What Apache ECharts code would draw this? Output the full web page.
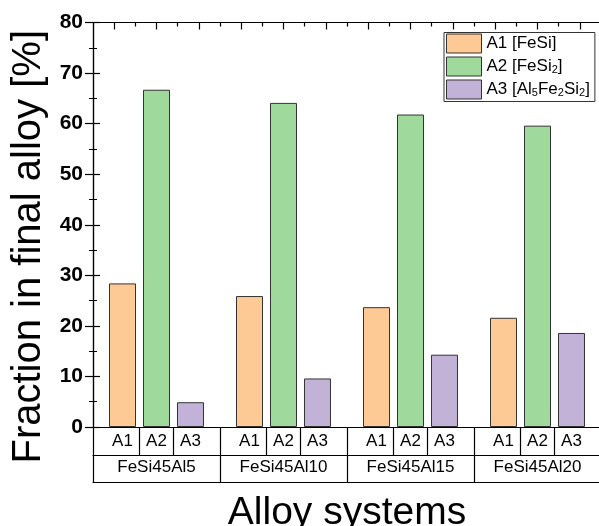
<!DOCTYPE html>
<html>
<head>
<meta charset="utf-8">
<script src="https://cdn.jsdelivr.net/npm/echarts@6/dist/echarts.min.js"></script>
<style>
html,body{margin:0;padding:0;background:#fff;}
#chart{width:599px;height:526px;}
</style>
</head>
<body>
<div id="chart"></div>
<script>
// ---- data ----
const groups = ['FeSi45Al5', 'FeSi45Al10', 'FeSi45Al15', 'FeSi45Al20'];
const phaseLabels = ['A1', 'A2', 'A3'];
const seriesNames = ['A1 [FeSi]', 'A2 [FeSi2]', 'A3 [Al5Fe2Si2]'];
const legendRich = ['A1 [FeSi]', 'A2 [FeSi{s|2}]', 'A3 [Al{s|5}Fe{s|2}Si{s|2}]'];
const a1 = [28.4, 25.9, 23.7, 21.6];
const a2 = [66.7, 64.1, 61.8, 59.6];
const a3 = [4.9, 9.6, 14.3, 18.6];
const yMin = 0, yMax = 80, yStep = 10;
const xTitle = 'Alloy systems';
const yTitle = 'Fraction in final alloy [%]';

// ---- layout ----
const FONT = "'Liberation Sans', Arial, sans-serif";
const colors = ['#FDC995', '#9FD99B', '#C2B2D7'];
const gridLeft = 93, gridTop = 22.5, gridW = 508, gridH = 404.5;
const bandPx = gridW / groups.length;
const barW = 27, gapPx = 7;
const step = (barW + gapPx) / bandPx;
// label centres and cell dividers in group units
const cellCenters = [], cellDividers = [], groupBounds = [];
for (let g = 0; g < groups.length; g++) {
  for (let k = -1; k <= 1; k++) cellCenters.push(g + 0.5 + k * step);
  cellDividers.push(g + 0.5 - step / 2, g + 0.5 + step / 2);
}
for (let g = 0; g <= groups.length; g++) { groupBounds.push(g); cellDividers.push(g); }
const groupCenters = groups.map((_, g) => g + 0.5);
const topMajor = [], topMinor = [];
for (let i = 1; i < 24; i++) (i % 2 ? topMajor : topMinor).push(i);

function nearestIndex(arr, v) {
  let best = 0;
  for (let i = 1; i < arr.length; i++) if (Math.abs(arr[i] - v) < Math.abs(arr[best] - v)) best = i;
  return best;
}

const chart = echarts.init(document.getElementById('chart'), null, {renderer: 'canvas'});
const lineStyle = {color: '#000', width: 1.2};

const option = {
  backgroundColor: '#fff',
  animation: false,
  textStyle: {fontFamily: FONT},
  grid: {left: gridLeft, top: gridTop, width: gridW, height: gridH, containLabel: false, outerBoundsMode: 'none'},
  legend: {
    orient: 'vertical', left: 444, top: 32.5,
    itemWidth: 35, itemHeight: 19, itemGap: 3,
    padding: [1, 5, 2, 2],
    borderColor: '#333', borderWidth: 1, backgroundColor: '#fff',
    icon: 'rect',
    itemStyle: {borderColor: '#333', borderWidth: 1},
    data: seriesNames,
    formatter: function (name) { return legendRich[seriesNames.indexOf(name)]; },
    textStyle: {
      fontFamily: FONT, fontSize: 17, color: '#000',
      rich: {s: {fontFamily: FONT, fontSize: 11, color: '#000', verticalAlign: 'bottom', lineHeight: 11}}
    }
  },
  xAxis: [
    { // main category axis
      type: 'category', data: groups, position: 'bottom',
      axisLine: {show: true, lineStyle: lineStyle},
      axisTick: {show: false}, axisLabel: {show: false}, splitLine: {show: false},
      name: xTitle, nameLocation: 'middle', nameGap: 66.5,
      nameTextStyle: {fontFamily: FONT, fontSize: 39, color: '#000'}
    },
    { // row 1: phases
      type: 'value', min: 0, max: groups.length, position: 'bottom', offset: 0,
      axisLine: {show: true, lineStyle: lineStyle},
      axisTick: {show: true, customValues: cellDividers, length: 28, inside: false, lineStyle: lineStyle},
      axisLabel: {show: true, customValues: cellCenters, margin: 6, fontFamily: FONT, fontSize: 17, color: '#000',
        showMinLabel: true, showMaxLabel: true, hideOverlap: false,
        formatter: function (v) { return phaseLabels[nearestIndex(cellCenters, v) % phaseLabels.length]; }},
      splitLine: {show: false}
    },
    { // row 2: groups
      type: 'value', min: 0, max: groups.length, position: 'bottom', offset: 28,
      axisLine: {show: true, lineStyle: lineStyle},
      axisTick: {show: true, customValues: groupBounds, length: 27, inside: false, lineStyle: lineStyle},
      axisLabel: {show: true, customValues: groupCenters, margin: 4, fontFamily: FONT, fontSize: 17, color: '#000',
        showMinLabel: true, showMaxLabel: true, hideOverlap: false,
        formatter: function (v) { return groups[nearestIndex(groupCenters, v)]; }},
      splitLine: {show: false}
    },
    { // bottom line of table
      type: 'value', min: 0, max: groups.length, position: 'bottom', offset: 55,
      axisLine: {show: true, lineStyle: lineStyle},
      axisTick: {show: false}, axisLabel: {show: false}, splitLine: {show: false}
    },
    { // top frame, long ticks
      type: 'value', min: 0, max: 24, position: 'top',
      axisLine: {show: true, lineStyle: lineStyle},
      axisTick: {show: true, customValues: topMajor, length: 7, inside: true, lineStyle: lineStyle},
      axisLabel: {show: false}, splitLine: {show: false}
    },
    { // top frame, short ticks
      type: 'value', min: 0, max: 24, position: 'top',
      axisLine: {show: false},
      axisTick: {show: true, customValues: topMinor, length: 4, inside: true, lineStyle: lineStyle},
      axisLabel: {show: false}, splitLine: {show: false}
    }
  ],
  yAxis: [
    {
      type: 'value', min: yMin, max: yMax, interval: yStep, position: 'left',
      axisLine: {show: true, lineStyle: lineStyle},
      axisTick: {show: true, inside: true, length: 7, lineStyle: lineStyle},
      minorTick: {show: true, splitNumber: 2, length: 4, lineStyle: {color: '#000', width: 1}},
      axisLabel: {show: true, margin: 10, fontFamily: FONT, fontSize: 21, fontWeight: 'bold', color: '#000'},
      splitLine: {show: false},
      name: yTitle, nameLocation: 'middle', nameGap: 43, nameRotate: 90,
      nameTextStyle: {fontFamily: FONT, fontSize: 40, color: '#000', padding: [0, 44, 0, 0]}
    },
    {
      type: 'value', min: yMin, max: yMax, interval: yStep, position: 'right',
      axisLine: {show: true, lineStyle: lineStyle},
      axisTick: {show: true, inside: true, length: 8, lineStyle: lineStyle},
      minorTick: {show: true, splitNumber: 2, length: 4, lineStyle: {color: '#000', width: 1}},
      axisLabel: {show: false}, splitLine: {show: false}
    }
  ],
  series: [a1, a2, a3].map(function (vals, i) {
    return {
      name: seriesNames[i], type: 'bar', xAxisIndex: 0, yAxisIndex: 0,
      data: vals, barWidth: barW, barGap: (gapPx / barW * 100).toFixed(1) + '%',
      itemStyle: {color: colors[i], borderColor: '#333', borderWidth: 1}
    };
  })
};
chart.setOption(option);
</script>
</body>
</html>
